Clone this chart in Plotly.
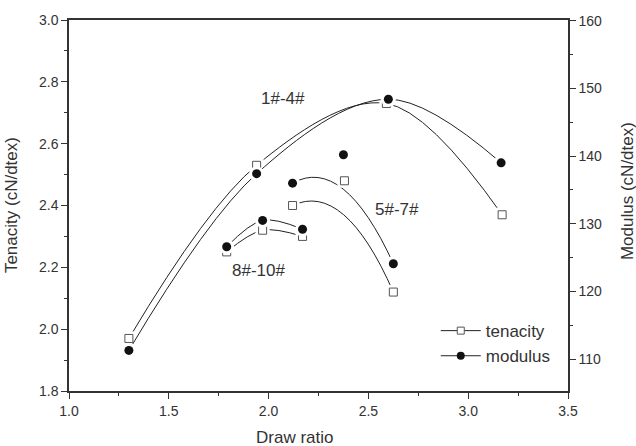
import plotly.graph_objects as go

# ---- data ----
groups = ["1#-4#", "5#-7#", "8#-10#"]
draw_ratio = {
    "1#-4#": [1.30, 1.94, 2.59, 3.17],
    "5#-7#": [2.12, 2.38, 2.625],
    "8#-10#": [1.79, 1.97, 2.17],
}
draw_ratio_mod = {
    "1#-4#": [1.30, 1.94, 2.60, 3.165],
    "5#-7#": [2.12, 2.375, 2.625],
    "8#-10#": [1.79, 1.97, 2.17],
}
tenacity = {
    "1#-4#": [1.97, 2.53, 2.73, 2.37],
    "5#-7#": [2.40, 2.48, 2.12],
    "8#-10#": [2.25, 2.32, 2.30],
}
modulus = {
    "1#-4#": [111.3, 137.4, 148.4, 139.0],
    "5#-7#": [136.0, 140.2, 124.1],
    "8#-10#": [126.6, 130.5, 129.2],
}
labels = {"1#-4#": (2.07, 2.747), "5#-7#": (2.645, 2.387), "8#-10#": (1.95, 2.19)}
# groups whose connecting curve is a B-spline (approximating, not through the middle point)
bspline_groups = ["5#-7#"]

x_ticks = [1.0, 1.5, 2.0, 2.5, 3.0, 3.5]
y_ticks = [1.8, 2.0, 2.2, 2.4, 2.6, 2.8, 3.0]
y2_ticks = [110, 120, 130, 140, 150, 160]

LINE = "#222222"
TXT = "#333333"
AX = "#333333"
FONT = "Liberation Sans, Arial, sans-serif"

fig = go.Figure()


def bspline_path(xs, ys):
    return f"M {xs[0]},{ys[0]} Q {xs[1]},{ys[1]} {xs[2]},{ys[2]}"


# tenacity (left axis)
for g in groups:
    if g in bspline_groups:
        fig.add_shape(type="path", path=bspline_path(draw_ratio[g], tenacity[g]),
                      xref="x", yref="y", line=dict(color=LINE, width=1), layer="below")
    else:
        fig.add_trace(go.Scatter(x=draw_ratio[g], y=tenacity[g], mode="lines",
                                 line=dict(color=LINE, width=1, shape="spline", smoothing=1.0),
                                 showlegend=False, hoverinfo="skip", yaxis="y"))
for g in groups:
    fig.add_trace(go.Scatter(x=draw_ratio[g], y=tenacity[g], mode="markers",
                             marker=dict(symbol="square", size=14, color="white",
                                         line=dict(width=0)),
                             showlegend=False, hoverinfo="skip", yaxis="y"))
for g in groups:
    fig.add_trace(go.Scatter(x=draw_ratio[g], y=tenacity[g], mode="markers",
                             marker=dict(symbol="square", size=8, color="white",
                                         line=dict(width=1, color="#555555")),
                             showlegend=False, yaxis="y"))

# modulus (right axis)
for g in groups:
    if g in bspline_groups:
        fig.add_shape(type="path", path=bspline_path(draw_ratio_mod[g], modulus[g]),
                      xref="x", yref="y2", line=dict(color=LINE, width=1), layer="below")
    else:
        fig.add_trace(go.Scatter(x=draw_ratio_mod[g], y=modulus[g], mode="lines",
                                 line=dict(color=LINE, width=1, shape="spline", smoothing=1.0),
                                 showlegend=False, hoverinfo="skip", yaxis="y2"))
for g in groups:
    fig.add_trace(go.Scatter(x=draw_ratio_mod[g], y=modulus[g], mode="markers",
                             marker=dict(symbol="circle", size=15, color="white",
                                         line=dict(width=0)),
                             showlegend=False, hoverinfo="skip", yaxis="y2"))
for g in groups:
    fig.add_trace(go.Scatter(x=draw_ratio_mod[g], y=modulus[g], mode="markers",
                             marker=dict(symbol="circle", size=9, color="#111111",
                                         line=dict(width=0)),
                             showlegend=False, yaxis="y2"))

# legend entries
fig.add_trace(go.Scatter(x=[None], y=[None], mode="lines+markers", name="tenacity",
                         line=dict(color=LINE, width=1),
                         marker=dict(symbol="square", size=7, color="white",
                                     line=dict(width=1, color="#555555")), yaxis="y"))
fig.add_trace(go.Scatter(x=[None], y=[None], mode="lines+markers", name="modulus",
                         line=dict(color=LINE, width=1),
                         marker=dict(symbol="circle", size=8, color="#111111"), yaxis="y2"))

for g in groups:
    fig.add_annotation(x=labels[g][0], y=labels[g][1], xref="x", yref="y", text=g,
                       showarrow=False, font=dict(size=17, color=TXT, family=FONT))

# axis titles
fig.add_annotation(x=0.452, y=-0.125, xref="paper", yref="paper", text="Draw ratio",
                   showarrow=False, xanchor="center", yanchor="middle",
                   font=dict(size=17, color=TXT, family=FONT))
fig.add_annotation(x=-0.115, y=0.5, xref="paper", yref="paper", text="Tenacity (cN/dtex)",
                   showarrow=False, textangle=-90, xanchor="center", yanchor="middle",
                   font=dict(size=17, color=TXT, family=FONT))
fig.add_annotation(x=1.119, y=0.54, xref="paper", yref="paper", text="Modulus (cN/dtex)",
                   showarrow=False, textangle=-90, xanchor="center", yanchor="middle",
                   font=dict(size=17, color=TXT, family=FONT))

fig.update_layout(
    width=636, height=446,
    margin=dict(l=69, r=68, t=20, b=55),
    plot_bgcolor="white", paper_bgcolor="white",
    font=dict(family=FONT, color=TXT, size=14),
    xaxis=dict(range=[1.0, 3.5], tickvals=x_ticks, ticktext=[f"{v:.1f}" for v in x_ticks],
               ticks="outside", ticklen=6, tickwidth=1.2, tickcolor=AX,
               showline=True, linecolor=AX, linewidth=1.5, mirror=True,
               showgrid=False, zeroline=False,
               minor=dict(dtick=0.25, tick0=1.0, ticks="outside", ticklen=3, tickcolor=AX, showgrid=False),
               tickfont=dict(size=14, color=TXT)),
    yaxis=dict(range=[1.8, 3.0], tickvals=y_ticks, ticktext=[f"{v:.1f}" for v in y_ticks],
               ticks="outside", ticklen=6, tickwidth=1.2, tickcolor=AX,
               showline=True, linecolor=AX, linewidth=1.5,
               showgrid=False, zeroline=False,
               minor=dict(dtick=0.1, tick0=1.8, ticks="outside", ticklen=3, tickcolor=AX, showgrid=False),
               tickfont=dict(size=14, color=TXT)),
    yaxis2=dict(range=[105.3, 160.1], tickvals=y2_ticks, overlaying="y", side="right",
                ticks="outside", ticklen=6, tickwidth=1.2, tickcolor=AX,
                showline=True, linecolor=AX, linewidth=1.5,
                showgrid=False, zeroline=False,
                minor=dict(dtick=5, tick0=105, ticks="outside", ticklen=3, tickcolor=AX, showgrid=False),
                tickfont=dict(size=14, color=TXT)),
    legend=dict(x=0.735, y=0.21, xanchor="left", yanchor="top", bgcolor="rgba(0,0,0,0)",
                font=dict(size=17, color=TXT, family=FONT), itemwidth=40, tracegroupgap=0),
    showlegend=True,
)

fig.write_html("out.html")
